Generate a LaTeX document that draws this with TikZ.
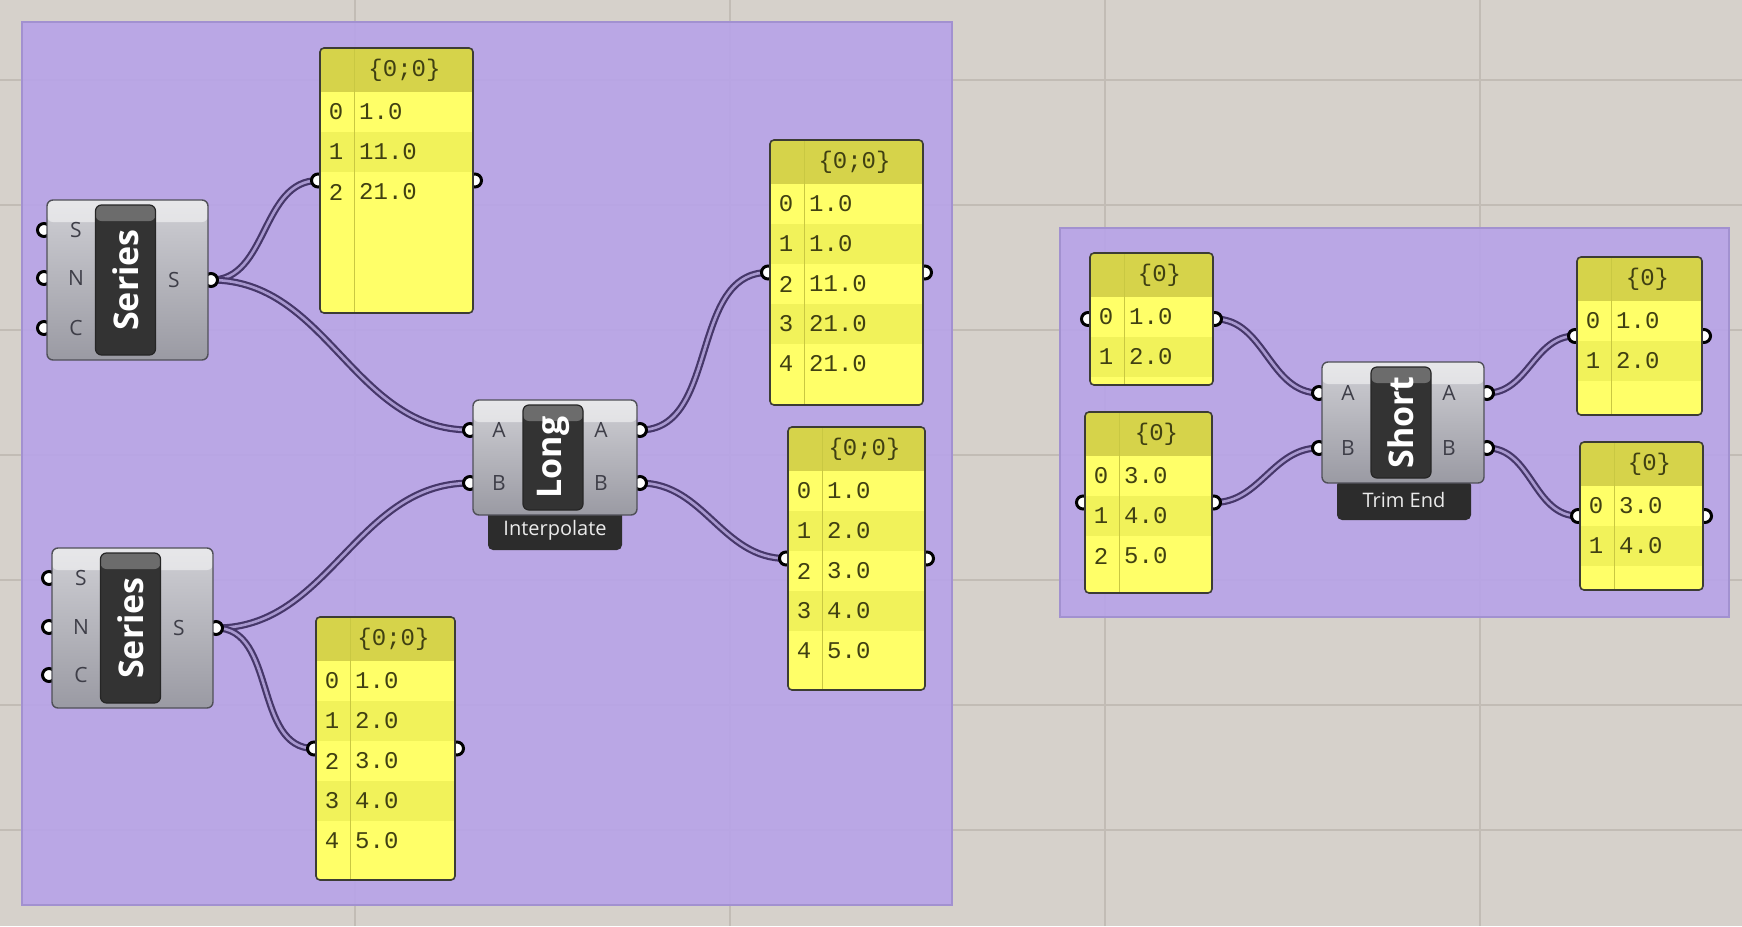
\documentclass[tikz,border=0pt]{standalone}
\usepackage{fontspec}
\setmainfont{Open Sans}
\newfontfamily\monofont{Liberation Mono}
\pgfdeclarelayer{back}
\pgfdeclarelayer{wires}
\pgfsetlayers{back,wires,main}
\definecolor{canvas}{HTML}{D6D1CB}
\definecolor{gridline}{HTML}{C2BCB5}
\definecolor{groupfill}{HTML}{B7A3E8}
\definecolor{groupedge}{HTML}{A291D0}
\definecolor{panelbody}{HTML}{FFFF68}
\definecolor{panelrow}{HTML}{F1F25A}
\definecolor{panelhead}{HTML}{D6D34A}
\definecolor{panelrule}{HTML}{C9C842}
\definecolor{paneledge}{HTML}{3C3C34}
\definecolor{paneltext}{HTML}{404012}
\definecolor{wireout}{HTML}{46376A}
\definecolor{wirein}{HTML}{A898CF}
\definecolor{bodytop}{HTML}{CFCFD4}
\definecolor{bodybot}{HTML}{9A9AA3}
\definecolor{bodyedge}{HTML}{505058}
\definecolor{titlefill}{HTML}{333333}
\definecolor{titletop}{HTML}{6C6C6C}
\definecolor{tagfill}{HTML}{2C2C2C}
\definecolor{labelgrey}{HTML}{3E3E48}

% #1 name, #2 left, #3 top, #4 right, #5 bottom, #6 header, #7 values
\newcommand{\datapanel}[7]{%
  \node[port] (#1-in) at (#2-2,{(#3+#5)/2}) {};
  \node[port] (#1-out) at (#4+2,{(#3+#5)/2}) {};
  \begin{scope}
    \clip[rounded corners=4pt] (#2,#3) rectangle (#4,#5);
    \fill[panelbody] (#2,#3) rectangle (#4,#5);
    \fill[panelhead] (#2,#3) rectangle (#4,#3+44);
    \foreach \v [count=\i from 0] in {#7} {
      \pgfmathsetmacro\ry{#3+64+40*\i}
      \ifodd\i\relax \fill[panelrow] (#2,\ry-20) rectangle (#4,\ry+20); \fi
      \node[cell] (#1-i\i) at (#2+16,\ry) {\i};
      \node[cell,anchor=west] (#1-v\i) at (#2+39,\ry) {\v};
    }
    \draw[panelrule,line width=1pt] (#2+34,#3) -- (#2+34,#5);
  \end{scope}
  \node[cell] (#1-head) at ({(#2+#4)/2+8},#3+22) {#6};
  \draw[paneledge,line width=1.6pt,rounded corners=4pt] (#2,#3) rectangle (#4,#5);
}

% #1 name, #2 left, #3 top, #4 right, #5 bottom, #6 title
\newcommand{\gcomp}[6]{%
  \node[compbody,minimum width={#4-#2},minimum height={#5-#3}] (#1-body) at ({(#2+#4)/2},{(#3+#5)/2}) {};
  \node[titlebox,minimum width=60,minimum height={#5-#3-10}] (#1) at ({(#2+#4)/2-2},{(#3+#5)/2}) {};
  \node[titletext] (#1-title) at (#1) {#6};
}

\begin{document}
\begin{tikzpicture}[x=1pt,y=-1pt,
    port/.style={circle,fill=white,draw=black,line width=3pt,inner sep=0pt,minimum size=13pt},
    wire/.style={draw=wireout,line width=2.2pt,double=wirein,double distance=2.6pt},
    cell/.style={font=\monofont\fontsize{24}{24}\selectfont,text=paneltext,inner sep=0pt},
    plabel/.style={font=\fontsize{21}{21}\selectfont,text=labelgrey,inner sep=0pt},
    compbody/.style={draw=bodyedge,line width=1.4pt,rounded corners=6pt,top color=bodytop,bottom color=bodybot,inner sep=0pt,
      path picture={\fill[white,opacity=0.5] (path picture bounding box.north west) rectangle ([yshift=-22pt]path picture bounding box.north east);}},
    titlebox/.style={draw=black!85,line width=1.2pt,fill=titlefill,rounded corners=6pt,inner sep=0pt,
      path picture={\fill[titletop] (path picture bounding box.north west) rectangle ([yshift=-16pt]path picture bounding box.north east);}},
    titletext/.style={font=\bfseries\fontsize{34}{34}\selectfont,text=white,rotate=90,inner sep=0pt},
    tag/.style={fill=tagfill,rounded corners=5pt,text=white!92!black,font=\fontsize{20}{20}\selectfont,inner sep=0pt,minimum width=134pt,minimum height=40pt}]
  \useasboundingbox (0,0) rectangle (1742,926);

  \begin{pgfonlayer}{back}
    \fill[canvas] (0,0) rectangle (1742,926);
    \foreach \gx in {355,730,1105,1480} \draw[gridline,line width=1.2pt] (\gx,0) -- (\gx,926);
    \foreach \gy in {80,205,330,455,580,705,830} \draw[gridline,line width=1.2pt] (0,\gy) -- (1742,\gy);
    \draw[groupedge,line width=1.5pt,fill=groupfill,fill opacity=0.9] (22,22) rectangle (952,905);
    \draw[groupedge,line width=1.5pt,fill=groupfill,fill opacity=0.9] (1060,228) rectangle (1729,617);
  \end{pgfonlayer}

  \foreach \py [count=\k] in {230,278,328} \node[port] (ser1-in\k) at (44,\py) {};
  \node[port] (ser1-out) at (211,280) {};
  \gcomp{ser1}{47}{200}{208}{360}{Series}
  \foreach \lab/\py in {S/230,N/278,C/328} \node[plabel] (ser1-l\lab) at (76,\py) {\lab};
  \node[plabel] (ser1-lout) at (174,280) {S};

  \foreach \py [count=\k] in {578,627,675} \node[port] (ser2-in\k) at (49,\py) {};
  \node[port] (ser2-out) at (216,628) {};
  \gcomp{ser2}{52}{548}{213}{708}{Series}
  \foreach \lab/\py in {S/578,N/627,C/675} \node[plabel] (ser2-l\lab) at (81,\py) {\lab};
  \node[plabel] (ser2-lout) at (179,628) {S};

  \node[port] (long-inA) at (470,430) {};
  \node[port] (long-inB) at (470,483) {};
  \node[port] (long-outA) at (640,430) {};
  \node[port] (long-outB) at (640,483) {};
  \node[tag] (long-tag) at (555,530) {Interpolate};
  \gcomp{long}{473}{400}{637}{515}{Long}
  \foreach \lab/\py in {A/430,B/483} {
    \node[plabel] (long-l\lab) at (499,\py) {\lab};
    \node[plabel] (long-r\lab) at (601,\py) {\lab};
  }

  \node[port] (short-inA) at (1319,393) {};
  \node[port] (short-inB) at (1319,448) {};
  \node[port] (short-outA) at (1487,393) {};
  \node[port] (short-outB) at (1487,448) {};
  \node[tag] (short-tag) at (1404,500) {Trim End};
  \gcomp{short}{1322}{362}{1484}{483}{Short}
  \foreach \lab/\py in {A/393,B/448} {
    \node[plabel] (short-l\lab) at (1348,\py) {\lab};
    \node[plabel] (short-r\lab) at (1449,\py) {\lab};
  }

  \datapanel{pTop}{320}{48}{473}{313}{\{0;0\}}{1.0,11.0,21.0}
  \datapanel{pBot}{316}{617}{455}{880}{\{0;0\}}{1.0,2.0,3.0,4.0,5.0}
  \datapanel{pLongA}{770}{140}{923}{405}{\{0;0\}}{1.0,1.0,11.0,21.0,21.0}
  \datapanel{pLongB}{788}{427}{925}{690}{\{0;0\}}{1.0,2.0,3.0,4.0,5.0}
  \datapanel{pInA}{1090}{253}{1213}{385}{\{0\}}{1.0,2.0}
  \datapanel{pInB}{1085}{412}{1212}{593}{\{0\}}{3.0,4.0,5.0}
  \datapanel{pShortA}{1577}{257}{1702}{415}{\{0\}}{1.0,2.0}
  \datapanel{pShortB}{1580}{442}{1703}{590}{\{0\}}{3.0,4.0}

  \begin{pgfonlayer}{wires}
    \draw[wire] (ser1-out.center) to[out=0,in=180] (pTop-in.center);
    \draw[wire] (ser1-out.center) to[out=0,in=180] (long-inA.center);
    \draw[wire] (ser2-out.center) to[out=0,in=180] (long-inB.center);
    \draw[wire] (ser2-out.center) to[out=0,in=180] (pBot-in.center);
    \draw[wire] (long-outA.center) to[out=0,in=180] (pLongA-in.center);
    \draw[wire] (long-outB.center) to[out=0,in=180] (pLongB-in.center);
    \draw[wire] (pInA-out.center) to[out=0,in=180] (short-inA.center);
    \draw[wire] (pInB-out.center) to[out=0,in=180] (short-inB.center);
    \draw[wire] (short-outA.center) to[out=0,in=180] (pShortA-in.center);
    \draw[wire] (short-outB.center) to[out=0,in=180] (pShortB-in.center);
  \end{pgfonlayer}
\end{tikzpicture}
\end{document}
